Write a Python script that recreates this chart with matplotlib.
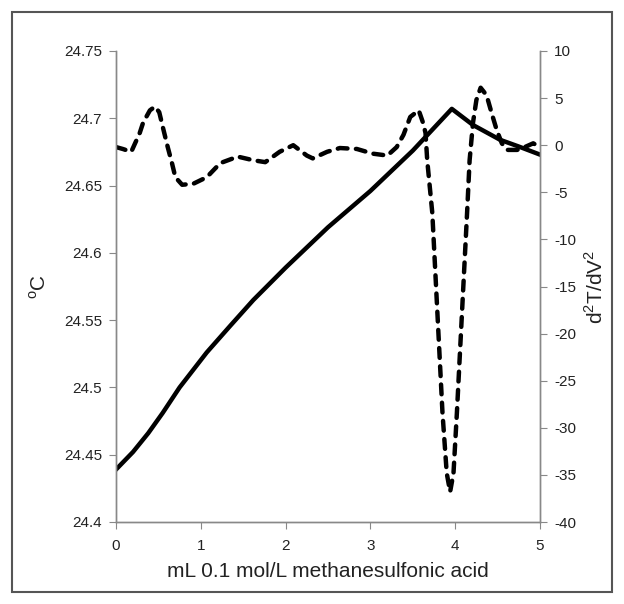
import matplotlib.pyplot as plt
from matplotlib.patches import Rectangle

plt.rcParams['font.family'] = ['Liberation Sans', 'DejaVu Sans']
plt.rcParams['axes.unicode_minus'] = False

# temperature curve (left axis)
vol_t = [0.0, 0.2, 0.38, 0.55, 0.75, 1.07, 1.35, 1.62, 2.0, 2.5, 3.0, 3.5, 3.96, 4.21, 4.53, 4.75, 5.0]
temp = [24.439, 24.452, 24.466, 24.481, 24.500, 24.526, 24.546, 24.565, 24.589, 24.619, 24.646, 24.676, 24.707,
        24.695, 24.684, 24.679, 24.673]

# second derivative (right axis)
vol_d = [0.0, 0.08, 0.18, 0.28, 0.32, 0.40, 0.46, 0.51, 0.55, 0.61, 0.66, 0.70, 0.78, 0.91, 1.07, 1.23,
         1.38, 1.43, 1.62, 1.76, 1.93, 2.09, 2.25, 2.32, 2.49, 2.64, 2.84, 3.03, 3.20, 3.31, 3.39, 3.47,
         3.57, 3.62, 3.65, 3.67, 3.73, 3.79, 3.85, 3.90, 3.94, 3.98, 4.02, 4.08, 4.14, 4.17, 4.21, 4.25,
         4.30, 4.37, 4.43, 4.49, 4.55, 4.61, 4.73, 4.82, 4.92, 5.0]
d2 = [-0.2, -0.4, -0.7, 1.3, 2.4, 3.7, 4.1, 3.5, 2.0, -0.2, -1.9, -3.4, -4.2, -4.1, -3.4, -1.9,
      -1.4, -1.2, -1.6, -1.8, -0.7, 0.0, -1.1, -1.4, -0.7, -0.3, -0.4, -0.9, -1.1, -0.2, 1.1, 3.0,
      3.7, 2.4, 1.3, -1.6, -7.2, -17.8, -28.4, -34.8, -36.8, -34.8, -28.4, -17.8, -7.2, -1.6, 2.4, 4.8,
      6.1, 5.3, 3.4, 1.6, 0.2, -0.5, -0.5, -0.2, 0.2, -0.2]

fig = plt.figure(figsize=(6.24, 6.04), dpi=100)
ax = fig.add_axes([116 / 624, 1 - 522 / 604, 424 / 624, 471 / 604])
ax2 = ax.twinx()

ax.plot(vol_t, temp, color='black', lw=3.2, solid_joinstyle='round')
ax2.plot(vol_d, d2, color='black', lw=3.2, dashes=(2.2, 1.9), dash_capstyle='round', dash_joinstyle='round')

ax.set_xlim(0, 5)
ax.set_ylim(24.4, 24.75)
ax2.set_ylim(-40, 10)
ax.set_xticks(range(6))
ax.set_yticks([24.4, 24.45, 24.5, 24.55, 24.6, 24.65, 24.7, 24.75])
ax.set_yticklabels(['24.4', '24.45', '24.5', '24.55', '24.6', '24.65', '24.7', '24.75'])
ax2.set_yticks(range(-40, 11, 5))

for a in (ax, ax2):
    a.spines['top'].set_visible(False)
    for s in ('left', 'right', 'bottom'):
        a.spines[s].set_color('#888888')
        a.spines[s].set_linewidth(1.0)
    a.tick_params(colors='#888888', labelcolor='#222222', labelsize=11, length=5, direction='out')
ax.tick_params(axis='x', pad=7)
ax.tick_params(axis='y', pad=5)
ax2.tick_params(axis='y', pad=5)

ax.set_xlabel('mL 0.1 mol/L methanesulfonic acid', fontsize=15, color='#222222', labelpad=7)
ax.set_ylabel('$^{\\mathregular{o}}$C', fontsize=15, color='#222222', labelpad=10)
ax2.set_ylabel('d$^{\\mathregular{2}}$T/dV$^{\\mathregular{2}}$', fontsize=15, color='#222222', labelpad=6)

fig.patches.append(Rectangle((12 / 624, 12 / 604), 600 / 624, 580 / 604, transform=fig.transFigure,
                             fill=False, edgecolor='#555555', linewidth=1.5))

fig.savefig('out.png', dpi=100)
